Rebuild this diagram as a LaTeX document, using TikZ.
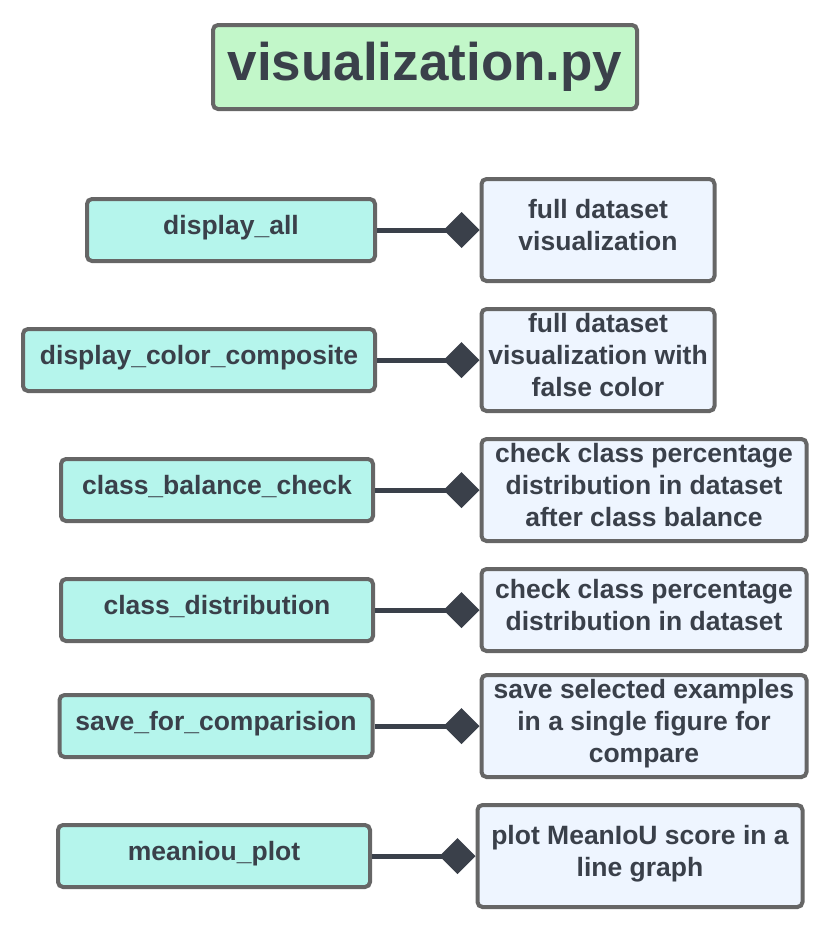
\documentclass[tikz,border=0pt]{standalone}
\usepackage{fontspec}
\setmainfont{Liberation Sans}
\usepackage{xcolor}
\usetikzlibrary{arrows.meta,positioning}

\definecolor{inkc}{HTML}{3A404A}
\definecolor{edgec}{HTML}{666666}
\definecolor{titlec}{HTML}{C2F7C9}
\definecolor{funcc}{HTML}{B5F5EC}
\definecolor{descc}{HTML}{EEF5FF}

\begin{document}
\begin{tikzpicture}[
  x = 1pt, y = -1pt,
  box/.style = {rectangle, draw=edgec, line width=4pt, rounded corners=5pt,
                align=center, inner sep=2pt, text=inkc, text depth=11pt,
                font=\bfseries\fontsize{26.5}{32}\selectfont},
  title/.style = {box, fill=titlec, minimum width=424pt, minimum height=84pt,
                  text depth=, font=\bfseries\fontsize{53}{60}\selectfont},
  func/.style = {box, fill=funcc, minimum height=62pt},
  desc/.style = {box, fill=descc, minimum height=102pt},
  conn/.style = {draw=inkc, line width=5pt,
                 -{Diamond[length=36pt,width=36pt,fill=inkc]}}
]
\useasboundingbox (0,0) rectangle (832,932);

% ───────── title ─────────
\node[title] (viz) at (425,67) {visualization.py};

% ───────── functions ─────────
\node[func, minimum width=288pt] (all)   at (231,230) {display\_all};
\node[func, minimum width=352pt] (comp)  at (199,360) {display\_color\_composite};
\node[func, minimum width=312pt] (bal)   at (217,490) {class\_balance\_check};
\node[func, minimum width=312pt] (dist)  at (217,610) {class\_distribution};
\node[func, minimum width=313pt] (save)  at (216,726) {save\_for\_comparision};
\node[func, minimum width=312pt] (miou)  at (214,856) {meaniou\_plot};

% ───────── descriptions ─────────
\node[desc, minimum width=233pt] (allD)  at (598,230) {full dataset\\visualization};
\node[desc, minimum width=233pt] (compD) at (598,360) {full dataset\\visualization with\\false color};
\node[desc, minimum width=325pt] (balD)  at (644,490) {check class percentage\\distribution in dataset\\after class balance};
\node[desc, minimum width=325pt, minimum height=82pt] (distD) at (644,610) {check class percentage\\distribution in dataset};
\node[desc, minimum width=325pt] (saveD) at (644,726) {save selected examples\\in a single figure for\\compare};
\node[desc, minimum width=325pt] (miouD) at (640,856) {plot MeanIoU score in a\\line graph};

% ───────── connectors ─────────
\draw[conn] (all)  -- (allD);
\draw[conn] (comp) -- (compD);
\draw[conn] (bal)  -- (balD);
\draw[conn] (dist) -- (distD);
\draw[conn] (save) -- (saveD);
\draw[conn] (miou) -- (miouD);
\end{tikzpicture}
\end{document}
